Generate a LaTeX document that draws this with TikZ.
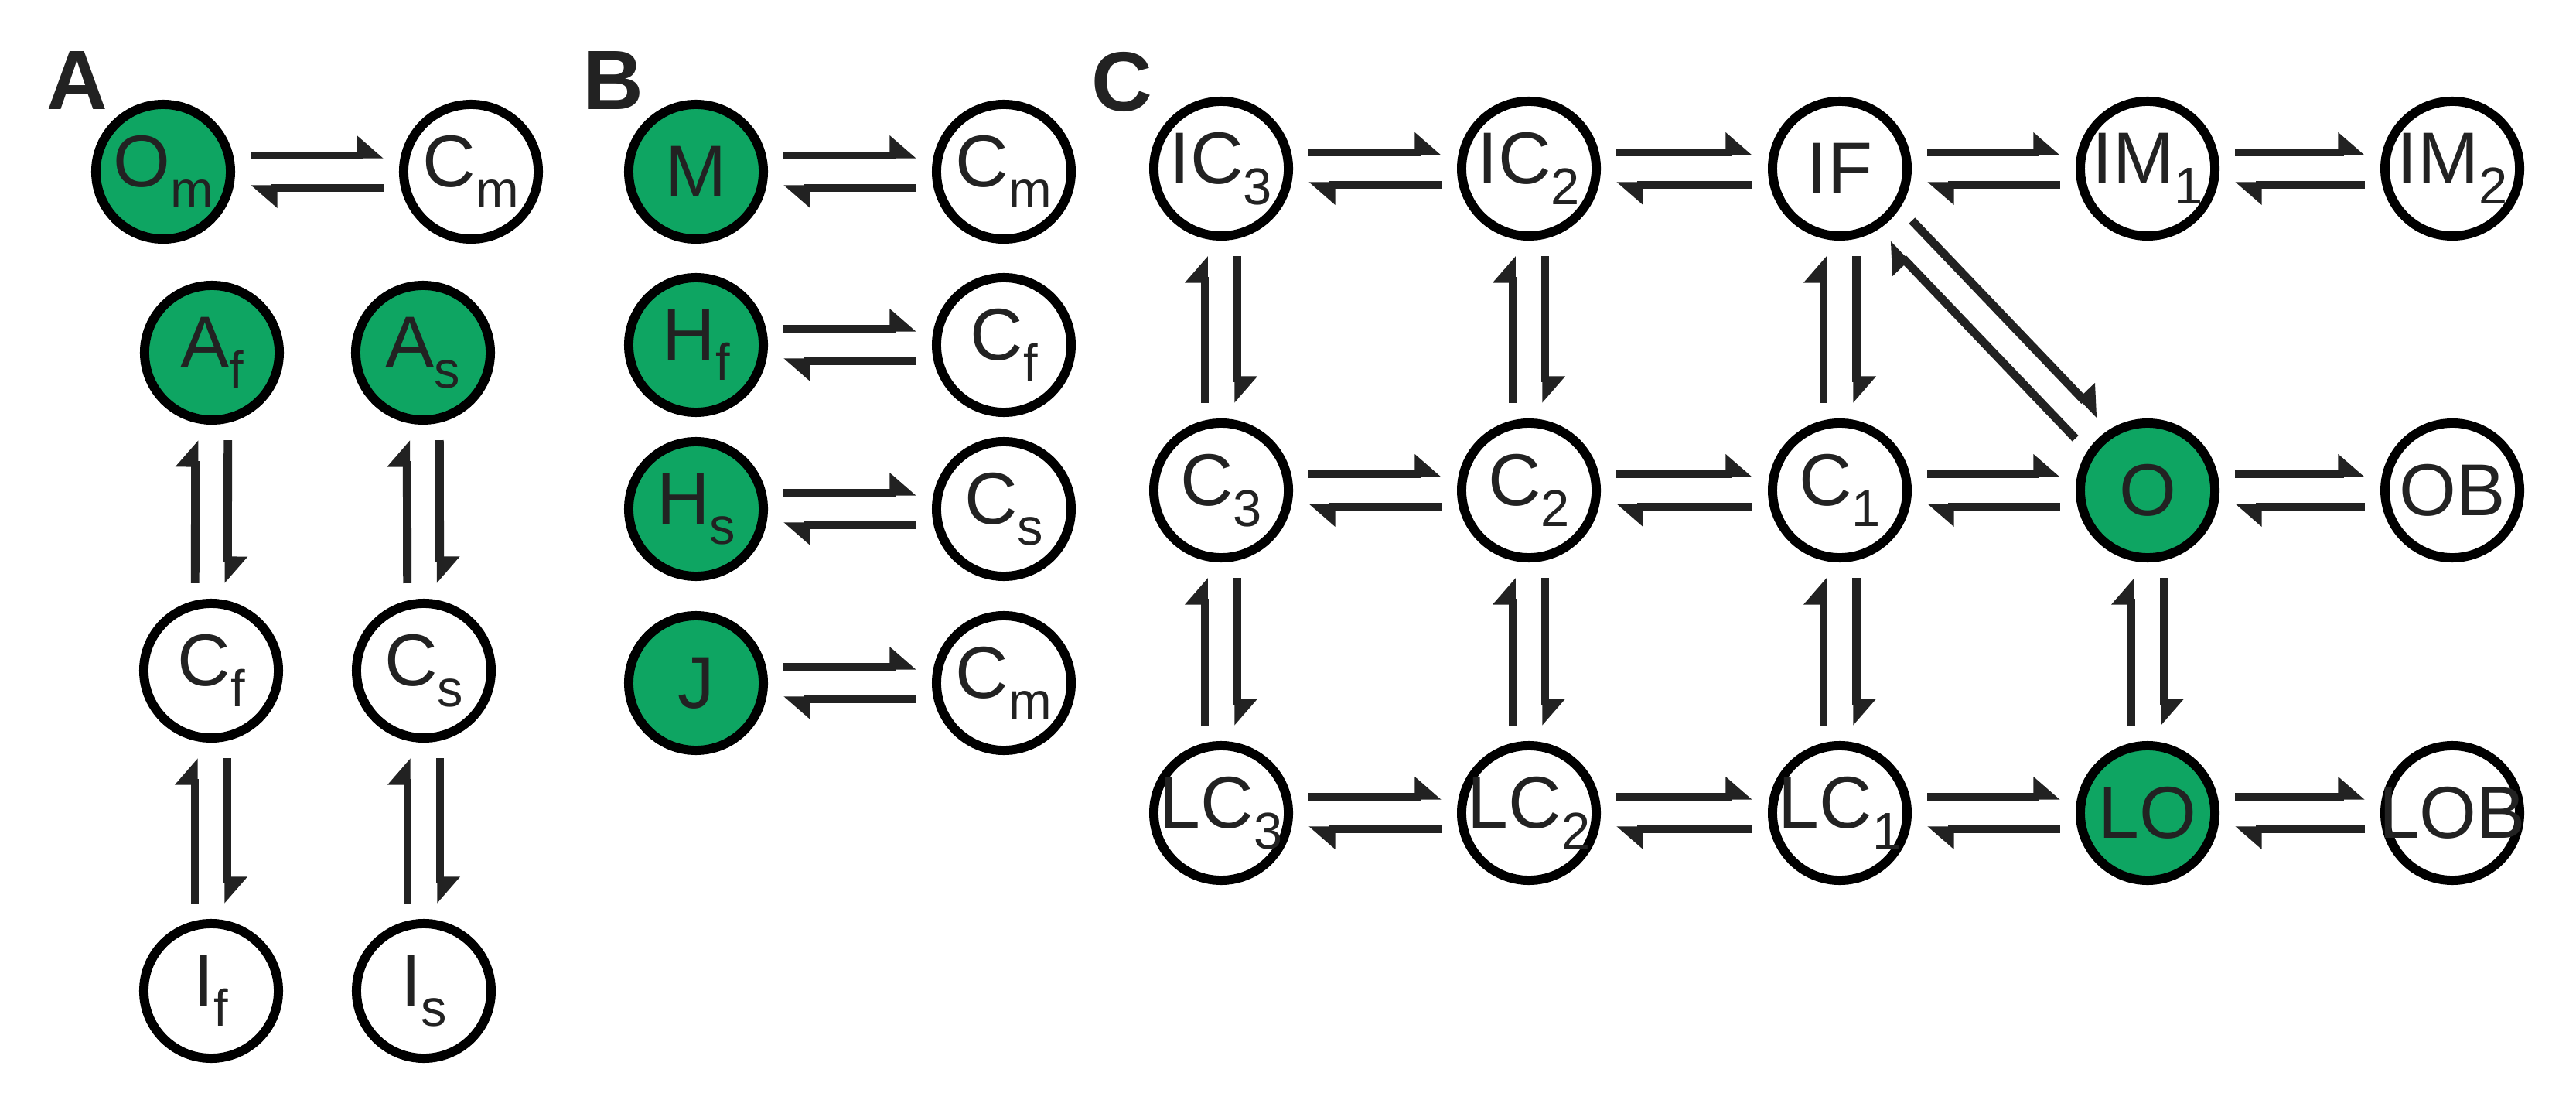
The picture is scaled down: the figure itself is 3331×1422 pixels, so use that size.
\documentclass[tikz,border=0pt]{standalone}
\usepackage{fontspec}
\setmainfont{Liberation Sans}
\usetikzlibrary{calc,arrows.meta}
\definecolor{grn}{HTML}{0EA562}
\definecolor{ink}{HTML}{222222}
\newcommand\sub[1]{\raisebox{-0.28em}{\fontsize{19}{20}\selectfont #1}}
\newcommand\eqpair[2]{%
  \path ($(#1)!1.13cm!(#2)$) coordinate (p) ($(#2)!1.13cm!(#1)$) coordinate (q);
  \draw[harp] ($(p)!0.21cm!90:(q)$) -- ($(q)!0.21cm!-90:(p)$);
  \draw[harp] ($(q)!0.21cm!90:(p)$) -- ($(p)!0.21cm!-90:(q)$);}
\begin{document}
\begin{tikzpicture}[x=0.01cm,y=-0.01cm,
  st/.style={circle,draw=black,line width=3.4pt,minimum size=1.74cm,inner sep=0pt,fill=white,
    font=\fontsize{27}{30}\selectfont,text=ink},
  on/.style={st,fill=grn},
  harp/.style={draw=ink,line width=3.1pt,-{Triangle[harpoon,length=0.3cm,width=0.5cm]}},
  lab/.style={font=\bfseries\fontsize{31}{34}\selectfont,text=ink}]
\useasboundingbox (0,0) rectangle (3331,1422);
\node[lab] (LA) at (100,104) {A};
\node[lab] (LB) at (793,104) {B};
\node[lab] (LC) at (1451,106) {C};
% A
\node[on] (Om) at (211,222) {\makebox[0pt]{O\sub{m}}};
\node[st] (Cm1) at (609,222) {\makebox[0pt]{C\sub{m}}};
\node[on] (Af) at (274,456) {\makebox[0pt]{A\sub{f}}};
\node[on] (As) at (547,456) {\makebox[0pt]{A\sub{s}}};
\node[st] (Cf1) at (273,867) {\makebox[0pt]{C\sub{f}}};
\node[st] (Cs1) at (548,867) {\makebox[0pt]{C\sub{s}}};
\node[st] (If) at (273,1281) {\makebox[0pt]{I\sub{f}}};
\node[st] (Is) at (548,1281) {\makebox[0pt]{I\sub{s}}};
% B
\node[on] (M) at (900,222) {\makebox[0pt]{M}};
\node[st] (Cm2) at (1298,222) {\makebox[0pt]{C\sub{m}}};
\node[on] (Hf) at (900,446) {\makebox[0pt]{H\sub{f}}};
\node[st] (Cf2) at (1298,446) {\makebox[0pt]{C\sub{f}}};
\node[on] (Hs) at (900,658) {\makebox[0pt]{H\sub{s}}};
\node[st] (Cs2) at (1298,658) {\makebox[0pt]{C\sub{s}}};
\node[on] (J) at (900,883) {\makebox[0pt]{J}};
\node[st] (Cm3) at (1298,883) {\makebox[0pt]{C\sub{m}}};
% C
\node[st] (IC3) at (1579,218) {\makebox[0pt]{IC\sub{3}}};
\node[st] (IC2) at (1977,218) {\makebox[0pt]{IC\sub{2}}};
\node[st] (IF) at (2379,218) {\makebox[0pt]{IF}};
\node[st] (IM1) at (2777,218) {\makebox[0pt]{IM\sub{1}}};
\node[st] (IM2) at (3171,218) {\makebox[0pt]{IM\sub{2}}};
\node[st] (C3) at (1579,634) {\makebox[0pt]{C\sub{3}}};
\node[st] (C2) at (1977,634) {\makebox[0pt]{C\sub{2}}};
\node[st] (C1) at (2379,634) {\makebox[0pt]{C\sub{1}}};
\node[on] (O) at (2777,634) {\makebox[0pt]{O}};
\node[st] (OB) at (3171,634) {\makebox[0pt]{OB}};
\node[st] (LC3) at (1579,1051) {\makebox[0pt]{LC\sub{3}}};
\node[st] (LC2) at (1977,1051) {\makebox[0pt]{LC\sub{2}}};
\node[st] (LC1) at (2379,1051) {\makebox[0pt]{LC\sub{1}}};
\node[on] (LO) at (2777,1051) {\makebox[0pt]{LO}};
\node[st] (LOB) at (3171,1051) {\makebox[0pt]{LOB}};
% A edges
\eqpair{Om}{Cm1}
\eqpair{Af}{Cf1}\eqpair{Cf1}{If}
\eqpair{As}{Cs1}\eqpair{Cs1}{Is}
% B edges
\eqpair{M}{Cm2}\eqpair{Hf}{Cf2}\eqpair{Hs}{Cs2}\eqpair{J}{Cm3}
% C edges
\eqpair{IC3}{IC2}\eqpair{IC2}{IF}\eqpair{IF}{IM1}\eqpair{IM1}{IM2}
\eqpair{C3}{C2}\eqpair{C2}{C1}\eqpair{C1}{O}\eqpair{O}{OB}
\eqpair{LC3}{LC2}\eqpair{LC2}{LC1}\eqpair{LC1}{LO}\eqpair{LO}{LOB}
\eqpair{IC3}{C3}\eqpair{C3}{LC3}
\eqpair{IC2}{C2}\eqpair{C2}{LC2}
\eqpair{IF}{C1}\eqpair{C1}{LC1}
\eqpair{O}{LO}
\eqpair{IF}{O}
\end{tikzpicture}
\end{document}
